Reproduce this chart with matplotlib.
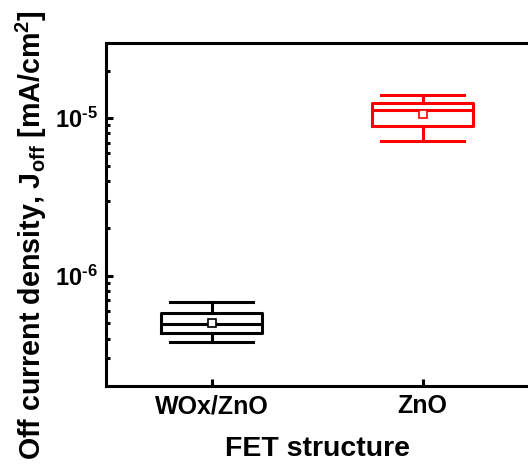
import numpy as np
import matplotlib.pyplot as plt
from matplotlib.ticker import LogLocator, NullFormatter, FuncFormatter

plt.rcParams['font.family'] = ['Liberation Sans', 'DejaVu Sans']
plt.rcParams['mathtext.fontset'] = 'custom'
plt.rcParams['mathtext.rm'] = 'Liberation Sans:bold'
plt.rcParams['mathtext.it'] = 'Liberation Sans:bold'
plt.rcParams['mathtext.bf'] = 'Liberation Sans:bold'

# box statistics
labels = ['WOx/ZnO', 'ZnO']
whis_lo = [3.78e-7, 7.12e-6]
q1 = [4.37e-7, 8.94e-6]
med = [4.94e-7, 1.12e-5]
q3 = [5.77e-7, 1.24e-5]
whis_hi = [6.78e-7, 1.41e-5]
means = [5.04e-7, 1.064e-5]
colors = ['black', 'red']

fig = plt.figure(figsize=(5.28, 4.68), dpi=100)
ax = fig.add_axes([0.2008, 0.1752, 0.7992, 0.7329])

for i in range(len(labels)):
    stats = [dict(whislo=whis_lo[i], q1=q1[i], med=med[i], q3=q3[i],
                  whishi=whis_hi[i], mean=means[i], fliers=[], label=labels[i])]
    c = colors[i]
    ax.bxp(stats, positions=[i + 1], widths=0.48, showmeans=True,
           showfliers=False, capwidths=0.39,
           boxprops=dict(color=c, linewidth=2.2),
           medianprops=dict(color=c, linewidth=2.2),
           whiskerprops=dict(color=c, linewidth=2.2),
           capprops=dict(color=c, linewidth=2.2),
           meanprops=dict(marker='s', markersize=6, markerfacecolor='white',
                          markeredgecolor=c, markeredgewidth=1.2))

ax.set_yscale('log')
ax.set_ylim(2e-7, 3e-5)
ax.set_xlim(0.5, 2.5)
ax.set_xticks([1, 2])
ax.set_xticklabels(labels, fontsize=18, fontweight='bold')
ax.yaxis.set_major_locator(LogLocator(base=10, numticks=10))
ax.yaxis.set_minor_locator(LogLocator(base=10, subs=np.arange(2, 10), numticks=20))
ax.yaxis.set_minor_formatter(NullFormatter())
ax.yaxis.set_major_formatter(FuncFormatter(
    lambda v, p: r'10$^{\text{%d}}$' % int(round(np.log10(v)))))
for lab in ax.get_yticklabels():
    lab.set_fontweight('bold')

ax.tick_params(which='major', direction='in', length=5, width=2.2, pad=6)
ax.tick_params(which='minor', direction='in', length=3, width=2.2)
ax.tick_params(axis='x', which='minor', bottom=False)
ax.tick_params(axis='y', labelsize=17)

for s in ['left', 'bottom', 'top']:
    ax.spines[s].set_linewidth(2.2)
ax.spines['right'].set_visible(False)

ax.set_xlabel('FET structure', fontsize=20.5, fontweight='bold', labelpad=13)
ax.set_ylabel(r'Off current density, J$_{\mathregular{off}}$ [mA/cm$^{\mathregular{2}}$]',
              fontsize=20.6, fontweight='bold')
ax.yaxis.set_label_coords(-0.135, 0.44)

fig.savefig('out.png', dpi=100)
